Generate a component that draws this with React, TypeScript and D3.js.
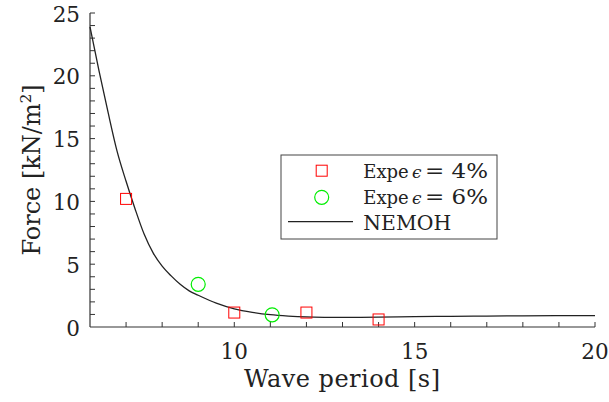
import React from "react";
import * as d3 from "d3";

const nemohPeriod = [6.0, 6.25, 6.5, 6.75, 7.0, 7.25, 7.5, 7.75, 8.0, 8.25, 8.5, 8.75, 9.0, 9.5, 10.0, 10.5, 11.0, 11.5, 12.0, 12.5, 13.0, 14.0, 15.0, 16.0, 17.0, 18.0, 19.0, 20.0];
const nemohForce = [23.9, 20.4, 17.1, 14.0, 11.6, 9.4, 7.4, 5.9, 4.85, 4.07, 3.4, 2.88, 2.53, 1.9, 1.45, 1.17, 0.98, 0.87, 0.8, 0.77, 0.76, 0.78, 0.82, 0.85, 0.87, 0.89, 0.9, 0.91];

const expe4Period = [7.0, 10.0, 12.0, 14.0];
const expe4Force = [10.2, 1.15, 1.15, 0.6];

const expe6Period = [9.0, 11.05];
const expe6Force = [3.4, 0.97];

const xTickLabels = [10, 15, 20];
const yTickLabels = [0, 5, 10, 15, 20, 25];
const legendExpeWord = "Expe";
const legendSymbol = "\u03f5";
const legendEps = ["= 4%", "= 6%"];
const legendLineLabel = "NEMOH";

const W = 609;
const H = 402;
const FONT = "'DejaVu Serif', serif";

export default function App() {
  const x = d3.scaleLinear().domain([6, 20]).range([90, 595]);
  const y = d3.scaleLinear().domain([0, 25]).range([327, 13]);

  const line = d3
    .line<number>()
    .x((_, i) => x(nemohPeriod[i]))
    .y((d) => y(d))
    .curve(d3.curveMonotoneX);

  const xMinor = d3.range(7, 21, 1);
  const yMinor = d3.range(1, 26, 1);
  const axisColor = "#333";
  const tickLen = 5;

  const lg = { x: 281, y: 155, w: 216, h: 84 };

  return (
    <svg
      width={W}
      height={H}
      style={{ position: "absolute", left: 0, top: 0, background: "#fff" }}
      fontFamily={FONT}
    >
      <rect x={0} y={0} width={W} height={H} fill="#fff" />
      {/* axes */}
      <line x1={x(6)} x2={x(20)} y1={y(0)} y2={y(0)} stroke={axisColor} strokeWidth={1.2} />
      <line x1={x(6)} x2={x(6)} y1={y(0)} y2={y(25)} stroke={axisColor} strokeWidth={1.2} />
      {xMinor.map((t) => (
        <line key={"xt" + t} x1={x(t)} x2={x(t)} y1={y(0)} y2={y(0) - tickLen} stroke={axisColor} strokeWidth={1} />
      ))}
      {yMinor.map((t) => (
        <line key={"yt" + t} x1={x(6)} x2={x(6) + tickLen} y1={y(t)} y2={y(t)} stroke={axisColor} strokeWidth={1} />
      ))}
      {xTickLabels.map((t) => (
        <text key={"xl" + t} x={x(t)} y={359} textAnchor="middle" fontSize={21.5} fill="#222">
          {t}
        </text>
      ))}
      {yTickLabels.map((t) => (
        <text key={"yl" + t} x={80} y={y(t) + 8.5} textAnchor="end" fontSize={21.5} fill="#222">
          {t}
        </text>
      ))}
      <text
        x={244}
        y={387}
        textAnchor="start"
        fontSize={24}
        fill="#222"
        textLength={196}
        lengthAdjust="spacing"
      >
        Wave period [s]
      </text>
      <text
        transform={`translate(40, ${(y(0) + y(25)) / 2}) rotate(-90)`}
        textAnchor="middle"
        fontSize={24}
        fill="#222"
      >
        Force [kN/m<tspan dy={-9} fontSize={15}>2</tspan><tspan dy={9}>]</tspan>
      </text>

      {/* NEMOH curve */}
      <path d={line(nemohForce) || ""} fill="none" stroke="#222" strokeWidth={1.3} />

      {/* markers */}
      {expe4Period.map((p, i) => (
        <rect
          key={"s" + i}
          x={x(p) - 5.5}
          y={y(expe4Force[i]) - 5.5}
          width={11}
          height={11}
          fill="none"
          stroke="#ff0000"
          strokeWidth={1}
        />
      ))}
      {expe6Period.map((p, i) => (
        <circle key={"c" + i} cx={x(p)} cy={y(expe6Force[i])} r={7} fill="none" stroke="#00ee00" strokeWidth={1.2} />
      ))}

      {/* legend */}
      <rect x={lg.x} y={lg.y} width={lg.w} height={lg.h} fill="#fff" stroke="#444" strokeWidth={1} />
      <rect x={321.7 - 5.5} y={170.7 - 5.5} width={11} height={11} fill="none" stroke="#ff0000" strokeWidth={1} />
      <circle cx={321.7} cy={197.3} r={7} fill="none" stroke="#00ee00" strokeWidth={1.2} />
      <line x1={288} x2={353} y1={221.7} y2={221.7} stroke="#222" strokeWidth={1.3} />
      {legendEps.map((l, i) => (
        <g key={"lg" + i}>
          <text x={363.3} y={178.3 + i * 26} fontSize={18} fill="#222">
            {legendExpeWord}
          </text>
          <text x={412} y={178.3 + i * 26} fontSize={17} fontStyle="italic" fill="#222">
            {legendSymbol}
          </text>
          <text x={425} y={178.3 + i * 26} fontSize={21} fill="#222" textLength={63} lengthAdjust="spacingAndGlyphs">
            {l}
          </text>
        </g>
      ))}
      <text x={363.3} y={230.3} fontSize={21} fill="#222" textLength={88} lengthAdjust="spacingAndGlyphs">
        {legendLineLabel}
      </text>
    </svg>
  );
}
